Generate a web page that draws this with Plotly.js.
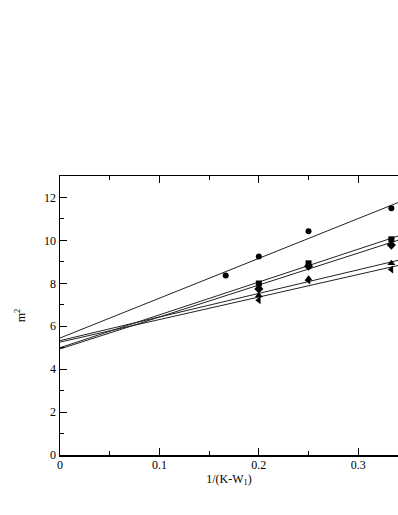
<!DOCTYPE html>
<html>
<head>
<meta charset="utf-8">
<script src="https://cdn.plot.ly/plotly-3.0.1.min.js"></script>
<style>html,body{margin:0;padding:0;background:#fff;overflow:hidden;}</style>
</head>
<body>
<div id="chart" style="width:398px;height:515px;"></div>
<script>
// Data points
var xCircle = [1/6, 0.2, 0.25, 1/3];
var yCircle = [8.36, 9.25, 10.42, 11.5];
var xOther = [0.2, 0.25, 1/3];
var ySquare = [7.99, 8.93, 10.05];
var yDiamond = [7.74, 8.80, 9.78];
var yTriUp = [7.43, 8.21, 8.93];
var yTriLeft = [7.21, 8.13, 8.64];

// Fitted lines: intercepts and slopes
var fitX = [0, 0.34];
var fitIntercepts = [5.45, 5.00, 4.94, 5.33, 5.26];
var fitSlopes = [18.56, 15.3, 14.9, 11.0, 10.5];

var font = {family: '"Liberation Serif", "Times New Roman", serif', size: 12, color: '#000'};

var traces = [];
for (var i = 0; i < fitIntercepts.length; i++) {
  traces.push({
    x: fitX,
    y: fitX.map(function (x) { return fitIntercepts[i] + fitSlopes[i] * x; }),
    mode: 'lines', line: {color: '#222', width: 1}, hoverinfo: 'skip', showlegend: false
  });
}
function pts(x, y, sym, size) {
  return {x: x, y: y, mode: 'markers', showlegend: false,
    marker: {symbol: sym, size: size, color: '#000'}};
}
traces.push(pts(xCircle, yCircle, 'circle', 6));
traces.push(pts(xOther, ySquare, 'square', 6));
traces.push(pts(xOther, yDiamond, 'diamond', 7));
traces.push(pts(xOther, yTriUp, 'triangle-up', 7));
traces.push(pts(xOther, yTriLeft, 'triangle-left', 7));

var layout = {
  width: 398, height: 515,
  margin: {l: 60, r: 0, t: 176, b: 60},
  paper_bgcolor: '#fff', plot_bgcolor: '#fff',
  font: font,
  showlegend: false,
  xaxis: {
    range: [0, 0.34], showgrid: false, zeroline: false,
    showline: true, linecolor: '#000', linewidth: 1.5, mirror: 'allticks',
    ticks: 'inside', ticklen: 7, tickcolor: '#000', tickwidth: 1,
    tickvals: [0, 0.1, 0.2, 0.3], ticktext: ['0', '0.1', '0.2', '0.3'],
    minor: {dtick: 0.05, tick0: 0, ticks: 'inside', ticklen: 4, tickcolor: '#000', showgrid: false},
    tickfont: font, ticklabelstandoff: -2,
    title: {text: '1/(K-W<sub>1</sub>)', font: font, standoff: 0}
  },
  yaxis: {
    range: [0, 13], showgrid: false, zeroline: false,
    showline: true, linecolor: '#000', linewidth: 1.5,
    ticks: 'inside', ticklen: 7, tickcolor: '#000', tickwidth: 1,
    tickvals: [0, 2, 4, 6, 8, 10, 12],
    minor: {dtick: 1, tick0: 0, ticks: 'inside', ticklen: 4, tickcolor: '#000', showgrid: false},
    tickfont: font,
    title: {text: 'm<sup>2</sup>', font: font, standoff: 16}
  }
};
Plotly.newPlot('chart', traces, layout, {displayModeBar: false, staticPlot: true});
</script>
</body>
</html>
